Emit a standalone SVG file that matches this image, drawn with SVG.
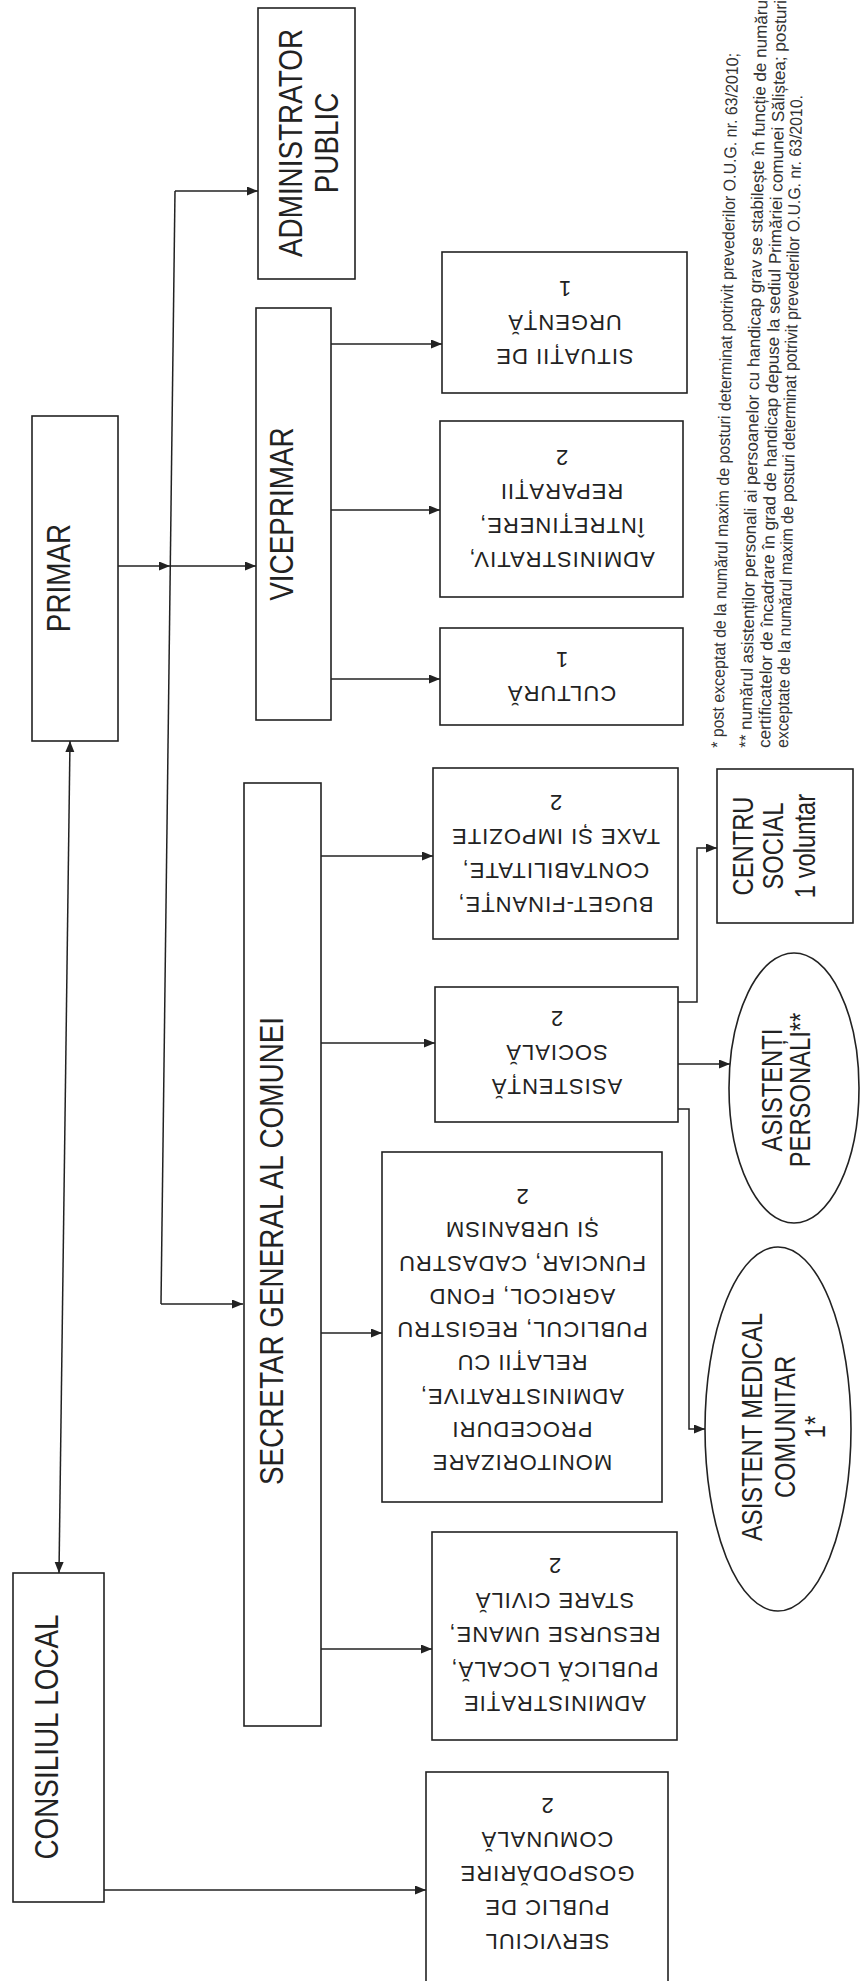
<svg xmlns="http://www.w3.org/2000/svg" width="861" height="1981" viewBox="0 0 861 1981">
<style>
.box{fill:#fff;stroke:#222;stroke-width:1.6}
.ln{fill:none;stroke:#222;stroke-width:1.5}
.h{font-family:"Liberation Sans",Arial,sans-serif;font-size:34px;fill:#222;text-anchor:middle}
.s{font-family:"Liberation Sans",Arial,sans-serif;font-size:29px;fill:#222;text-anchor:middle}
.d{font-family:"Liberation Sans",Arial,sans-serif;font-size:22px;letter-spacing:1px;fill:#222;text-anchor:middle}
.f{font-family:"Liberation Sans",Arial,sans-serif;font-size:17px;fill:#333}
</style>
<defs>
<marker id="ar" markerUnits="userSpaceOnUse" markerWidth="12" markerHeight="10" refX="11" refY="4.5" orient="auto-start-reverse">
<path d="M0,0 L11,4.5 L0,9 Z" fill="#222"/>
</marker>
</defs>
<rect width="861" height="1981" fill="#fff"/>

<g id="connectors">
<path class="ln" d="M70,741 L59,1573" marker-start="url(#ar)" marker-end="url(#ar)"/>
<path class="ln" d="M118,566 L170,566" marker-end="url(#ar)"/>
<path class="ln" d="M175,191 L161,1304"/>
<path class="ln" d="M175,191 L258,191" marker-end="url(#ar)"/>
<path class="ln" d="M170,566 L256,566" marker-end="url(#ar)"/>
<path class="ln" d="M161,1304 L243,1304" marker-end="url(#ar)"/>
<path class="ln" d="M331,344 L442,344" marker-end="url(#ar)"/>
<path class="ln" d="M331,510 L440,510" marker-end="url(#ar)"/>
<path class="ln" d="M331,679 L440,679" marker-end="url(#ar)"/>
<path class="ln" d="M321,856 L433,856" marker-end="url(#ar)"/>
<path class="ln" d="M321,1043 L435,1043" marker-end="url(#ar)"/>
<path class="ln" d="M321,1333 L382,1333" marker-end="url(#ar)"/>
<path class="ln" d="M321,1649 L432,1649" marker-end="url(#ar)"/>
<path class="ln" d="M104,1890 L426,1890" marker-end="url(#ar)"/>
<path class="ln" d="M678,1002 H697 V848 H717" marker-end="url(#ar)"/>
<path class="ln" d="M678,1064 H730" marker-end="url(#ar)"/>
<path class="ln" d="M678,1109 H689 V1429 H705" marker-end="url(#ar)"/>
</g>

<g id="admin-public">
<rect class="box" x="258" y="8" width="97" height="271"/>
<text class="h" transform="translate(302,143) rotate(-90) scale(0.82,1)">ADMINISTRATOR</text>
<text class="h" transform="translate(338,143) rotate(-90) scale(0.82,1)">PUBLIC</text>
</g>

<g id="primar">
<rect class="box" x="32" y="416" width="86" height="325"/>
<text class="h" transform="translate(70,578) rotate(-90) scale(0.82,1)">PRIMAR</text>
</g>

<g id="viceprimar">
<rect class="box" x="256" y="308" width="75" height="412"/>
<text class="h" transform="translate(293,514) rotate(-90) scale(0.82,1)">VICEPRIMAR</text>
</g>

<g id="secretar">
<rect class="box" x="244" y="783" width="77" height="943"/>
<text class="h" transform="translate(283,1251) rotate(-90) scale(0.82,1)">SECRETAR GENERAL AL COMUNEI</text>
</g>

<g id="consiliul">
<rect class="box" x="13" y="1573" width="91" height="329"/>
<text class="h" transform="translate(58,1737) rotate(-90) scale(0.82,1)">CONSILIUL LOCAL</text>
</g>

<g id="situatii">
<rect class="box" x="442" y="252" width="245" height="141"/>
<g transform="rotate(180 564.5 322.5)">
<text class="d" x="564.5" y="296.5">SITUAȚII DE</text>
<text class="d" x="564.5" y="330.5">URGENȚĂ</text>
<text class="d" x="564.5" y="364.5">1</text>
</g>
</g>

<g id="administrativ">
<rect class="box" x="440" y="421" width="243" height="176"/>
<g transform="rotate(180 561.5 509)">
<text class="d" x="561.5" y="466">ADMINISTRATIV,</text>
<text class="d" x="561.5" y="500">ÎNTREȚINERE,</text>
<text class="d" x="561.5" y="534">REPARAȚII</text>
<text class="d" x="561.5" y="568">2</text>
</g>
</g>

<g id="cultura">
<rect class="box" x="440" y="628" width="243" height="97"/>
<g transform="rotate(180 561.5 676.5)">
<text class="d" x="561.5" y="667.5">CULTURĂ</text>
<text class="d" x="561.5" y="701.5">1</text>
</g>
</g>

<g id="buget">
<rect class="box" x="433" y="768" width="245" height="171"/>
<g transform="rotate(180 555.5 853.5)">
<text class="d" x="555.5" y="810.5">BUGET-FINANȚE,</text>
<text class="d" x="555.5" y="844.5">CONTABILITATE,</text>
<text class="d" x="555.5" y="878.5">TAXE ȘI IMPOZITE</text>
<text class="d" x="555.5" y="912.5">2</text>
</g>
</g>

<g id="asistenta">
<rect class="box" x="435" y="987" width="243" height="135"/>
<g transform="rotate(180 556.5 1053)">
<text class="d" x="556.5" y="1027">ASISTENȚĂ</text>
<text class="d" x="556.5" y="1061">SOCIALĂ</text>
<text class="d" x="556.5" y="1095">2</text>
</g>
</g>

<g id="monitorizare">
<rect class="box" x="382" y="1152" width="280" height="350"/>
<g transform="rotate(180 522 1330)">
<text class="d" x="522" y="1205">MONITORIZARE</text>
<text class="d" x="522" y="1238.3">PROCEDURI</text>
<text class="d" x="522" y="1271.5">ADMINISTRATIVE,</text>
<text class="d" x="522" y="1304.8">RELAȚII CU</text>
<text class="d" x="522" y="1338">PUBLICUL, REGISTRU</text>
<text class="d" x="522" y="1371.3">AGRICOL, FOND</text>
<text class="d" x="522" y="1404.5">FUNCIAR, CADASTRU</text>
<text class="d" x="522" y="1437.8">ȘI URBANISM</text>
<text class="d" x="522" y="1471">2</text>
</g>
</g>

<g id="administratie">
<rect class="box" x="432" y="1532" width="245" height="208"/>
<g transform="rotate(180 554.5 1635)">
<text class="d" x="554.5" y="1574">ADMINISTRAȚIE</text>
<text class="d" x="554.5" y="1608.5">PUBLICĂ LOCALĂ,</text>
<text class="d" x="554.5" y="1643">RESURSE UMANE,</text>
<text class="d" x="554.5" y="1677.5">STARE CIVILĂ</text>
<text class="d" x="554.5" y="1712">2</text>
</g>
</g>

<g id="serviciul">
<rect class="box" x="426" y="1772" width="242" height="215"/>
<g transform="rotate(180 547 1873.5)">
<text class="d" x="547" y="1813.5">SERVICIUL</text>
<text class="d" x="547" y="1847.5">PUBLIC DE</text>
<text class="d" x="547" y="1881.5">GOSPODĂRIRE</text>
<text class="d" x="547" y="1915.5">COMUNALĂ</text>
<text class="d" x="547" y="1949.5">2</text>
</g>
</g>

<g id="centru-social">
<rect class="box" x="717" y="769" width="136" height="154"/>
<text class="s" transform="translate(753,846) rotate(-90) scale(0.82,1)">CENTRU</text>
<text class="s" transform="translate(783,846) rotate(-90) scale(0.82,1)">SOCIAL</text>
<text class="s" transform="translate(815,846) rotate(-90) scale(0.82,1)">1 voluntar</text>
</g>

<g id="asistenti-personali">
<ellipse class="box" cx="794" cy="1088" rx="65" ry="135"/>
<text class="s" transform="translate(782,1090) rotate(-90) scale(0.82,1)">ASISTENȚI</text>
<text class="s" transform="translate(810,1090) rotate(-90) scale(0.82,1)">PERSONALI**</text>
</g>

<g id="asistent-medical">
<ellipse class="box" cx="778" cy="1429" rx="73" ry="182"/>
<text class="s" transform="translate(762,1427) rotate(-90) scale(0.82,1)">ASISTENT MEDICAL</text>
<text class="s" transform="translate(795,1427) rotate(-90) scale(0.82,1)">COMUNITAR</text>
<text class="s" transform="translate(825,1427) rotate(-90) scale(0.82,1)">1*</text>
</g>

<g id="footnote">
<text class="f" transform="translate(723,748) rotate(-88.74)" textLength="695" lengthAdjust="spacingAndGlyphs">* post exceptat de la numărul maxim de posturi determinat potrivit prevederilor O.U.G. nr. 63/2010;</text>
<text class="f" transform="translate(751,748) rotate(-88.74)" textLength="752" lengthAdjust="spacingAndGlyphs">** numărul asistenților personali ai persoanelor cu handicap grav se stabilește în funcție de numărul</text>
<text class="f" transform="translate(770,748) rotate(-88.74)" textLength="748" lengthAdjust="spacingAndGlyphs">certificatelor de încadrare în grad de handicap depuse la sediul Primăriei comunei Săliștea; posturi</text>
<text class="f" transform="translate(788,748) rotate(-88.74)" textLength="653" lengthAdjust="spacingAndGlyphs">exceptate de la numărul maxim de posturi determinat potrivit prevederilor O.U.G. nr. 63/2010.</text>
</g>
</svg>
